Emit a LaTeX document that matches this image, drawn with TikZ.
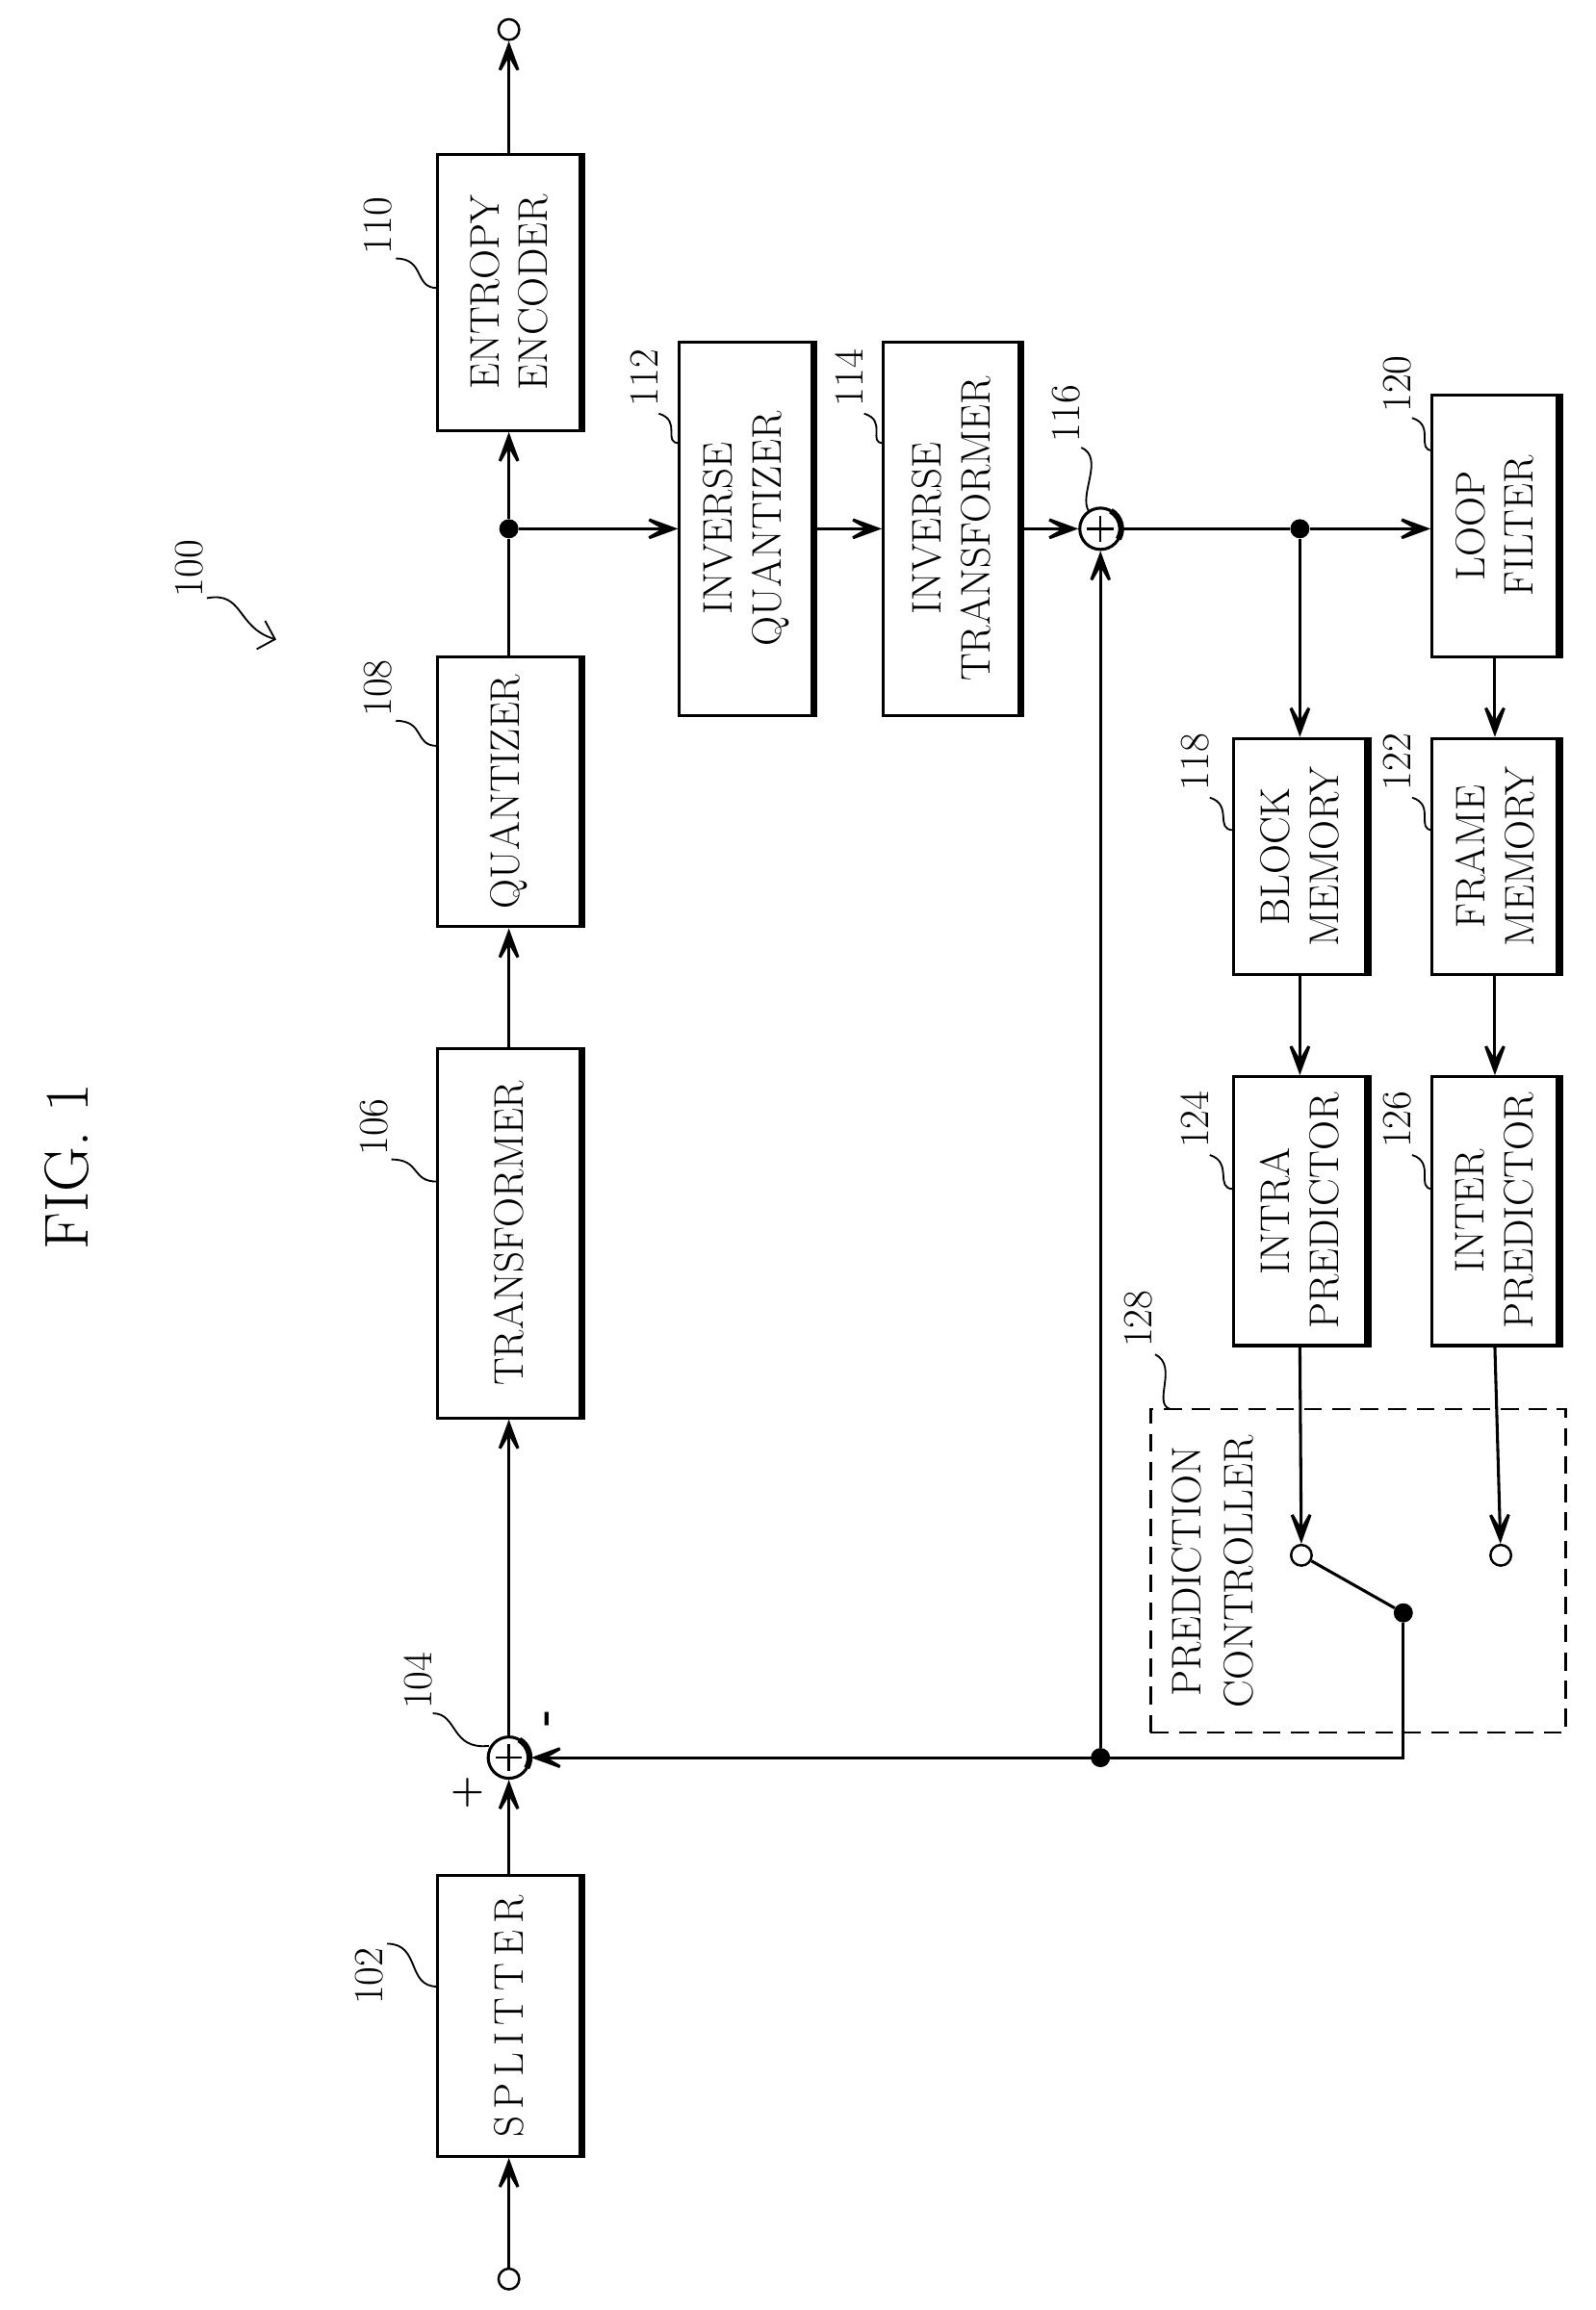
\documentclass[tikz,border=0pt]{standalone}
\usetikzlibrary{arrows.meta}
\begin{document}
\begin{tikzpicture}[x=1pt,y=-1pt,
 box/.style={draw,line width=2pt,rotate=90,align=center,inner sep=0pt,font=\fontsize{28}{33}\selectfont},
 ar/.style={line width=2pt,-{Stealth[length=30pt,width=22pt,inset=19pt]}},
 ln/.style={line width=2pt},
 term/.style={circle,draw,line width=1.6pt,minimum size=14pt,inner sep=0pt},
 dot/.style={circle,fill,minimum size=13pt,inner sep=0pt},
 lab/.style={rotate=90,font=\fontsize{28}{32}\selectfont,inner sep=1pt},
 lead/.style={line width=1.2pt},
 sum/.style={circle,draw,line width=2pt,minimum size=28pt,inner sep=0pt}]
\useasboundingbox (0,0) rectangle (1080,1564);
% boxes
\node[box,minimum width=190pt,minimum height=97pt] (splitter) at (344.5,1365) {S\,P\,L\,I\,T\,T\,E\,R};
\node[box,minimum width=250pt,minimum height=97pt] (trans) at (344.5,835) {TRANSFORMER};
\node[box,minimum width=183pt,minimum height=97pt] (quant) at (344.5,536) {QUANTIZER};
\node[box,minimum width=187pt,minimum height=97pt] (entropy) at (344.5,198) {ENTROPY\\ENCODER};
\node[box,minimum width=253pt,minimum height=90pt] (invq) at (505,358) {INVERSE\\QUANTIZER};
\node[box,minimum width=253pt,minimum height=92pt] (invt) at (644,358) {INVERSE\\TRANSFORMER};
\node[box,minimum width=177pt,minimum height=85pt] (loop) at (1012,356) {LOOP\\FILTER};
\node[box,minimum width=160pt,minimum height=90pt] (blockm) at (880,580) {BLOCK\\MEMORY};
\node[box,minimum width=160pt,minimum height=85pt] (framem) at (1012,580) {FRAME\\MEMORY};
\node[box,minimum width=182pt,minimum height=90pt] (intra) at (880,820) {INTRA\\PREDICTOR};
\node[box,minimum width=182pt,minimum height=85pt] (inter) at (1012,820) {INTER\\PREDICTOR};
\foreach \n in {splitter,trans,quant,entropy,invq,invt,loop,blockm,framem,intra,inter}
  \draw[line width=5pt] (\n.south west) -- (\n.south east);
% dashed controller
\node[draw,line width=1.6pt,dash pattern=on 12pt off 7pt,minimum width=281pt,minimum height=219pt,inner sep=0pt] (pc) at (919.5,1063.5) {};
\node[lab,align=center,font=\fontsize{28}{35}\selectfont] (pctext) at (821,1064) {PREDICTION\\CONTROLLER};
% sums, terminals, dots
\node[sum] (add1) at (344.5,1190) {};
\node[sum] (add2) at (745,358) {};
\foreach \s in {add1,add2}{
  \draw[line width=1.5pt] ([xshift=-9pt]\s.center) -- ([xshift=9pt]\s.center);
  \draw[line width=1.5pt] ([yshift=-9pt]\s.center) -- ([yshift=9pt]\s.center);
  \draw[line width=4pt] ([shift={(-30:14pt)}]\s.center) arc[start angle=-30,end angle=60,radius=14pt];}
\node[term] (in) at (344.5,1543) {};
\node[term] (out) at (344.5,20) {};
\node[term] (t1) at (881,1053) {};
\node[term] (t2) at (1016,1053) {};
\node[dot] (j1) at (344.5,358) {};
\node[dot] (j2) at (880,358) {};
\node[dot] (j3) at (745,1190) {};
\node[dot] (sw) at (950,1092) {};
\node[font=\bfseries\fontsize{26}{26}\selectfont] (plus) at (317,1214) {+};
\node[rotate=90,font=\bfseries\fontsize{30}{30}\selectfont] (minus) at (373,1163) {-};
% connectors
\draw[ar] (in) -- (splitter.west);
\draw[ar] (splitter.east) -- (add1);
\draw[ar] (add1) -- (trans.west);
\draw[ar] (trans.east) -- (quant.west);
\draw[ln] (quant.east) -- (j1);
\draw[ar] (j1) -- (entropy.west);
\draw[ar] (entropy.east) -- (out);
\draw[ar] (j1) -- (invq.north);
\draw[ar] (invq.south) -- (invt.north);
\draw[ar] (invt.south) -- (add2);
\draw[ln] (add2) -- (j2);
\draw[ar] (j2) -- (loop.north |- j2);
\draw[ar] (j2) -- (blockm.east);
\draw[ar] (loop.west) -- (framem.east);
\draw[ar] (blockm.west) -- (intra.east);
\draw[ar] (framem.west) -- (inter.east);
\draw[ar] (intra.west) -- (t1);
\draw[ar] (inter.west) -- (t2);
\draw[ln] (t1) -- (sw);
\draw[ar] (sw) |- (add1);
\draw[ar] (j3) -- (add2);
% labels
\node[lab] (l100) at (128,385) {100};
\draw[lead,-{Straight Barb[length=10pt]}] (140,405) .. controls (165,400) and (160,425) .. (187,433);
\node[lab] (l102) at (250,1338) {102};
\draw[lead] (262,1316) .. controls (285,1316) and (275,1345) .. (296,1345);
\node[lab] (l104) at (283,1138) {104};
\draw[lead] (293,1160) .. controls (310,1160) and (305,1185) .. (331,1182);
\node[lab] (l106) at (253,763) {106};
\draw[lead] (265,785) .. controls (285,785) and (278,800) .. (296,800);
\node[lab] (l108) at (256,466) {108};
\draw[lead] (268,488) .. controls (288,488) and (280,505) .. (296,505);
\node[lab] (l110) at (256,153) {110};
\draw[lead] (268,175) .. controls (288,175) and (280,195) .. (296,195);
\node[lab] (l112) at (436,256) {112};
\draw[lead] (446,280) .. controls (462,285) and (448,300) .. (460,300);
\node[lab] (l114) at (575,256) {114};
\draw[lead] (585,280) .. controls (601,285) and (587,300) .. (598,300);
\node[lab] (l116) at (722,280) {116};
\draw[lead] (732,303) .. controls (748,310) and (730,335) .. (737,346);
\node[lab] (l120) at (946,260) {120};
\draw[lead] (956,283) .. controls (972,288) and (958,305) .. (970,305);
\node[lab] (l118) at (809,516) {118};
\draw[lead] (819,540) .. controls (835,545) and (822,562) .. (835,562);
\node[lab] (l122) at (946,516) {122};
\draw[lead] (956,540) .. controls (972,545) and (958,562) .. (970,562);
\node[lab] (l124) at (809,758) {124};
\draw[lead] (819,782) .. controls (835,787) and (822,805) .. (835,805);
\node[lab] (l126) at (946,758) {126};
\draw[lead] (956,782) .. controls (972,787) and (958,805) .. (970,805);
\node[lab] (l128) at (771,893) {128};
\draw[lead] (782,917) .. controls (798,925) and (780,950) .. (792,954);
\node[rotate=90,font=\fontsize{42}{44}\selectfont] (fig) at (45,790) {FIG. 1};
\end{tikzpicture}
\end{document}
